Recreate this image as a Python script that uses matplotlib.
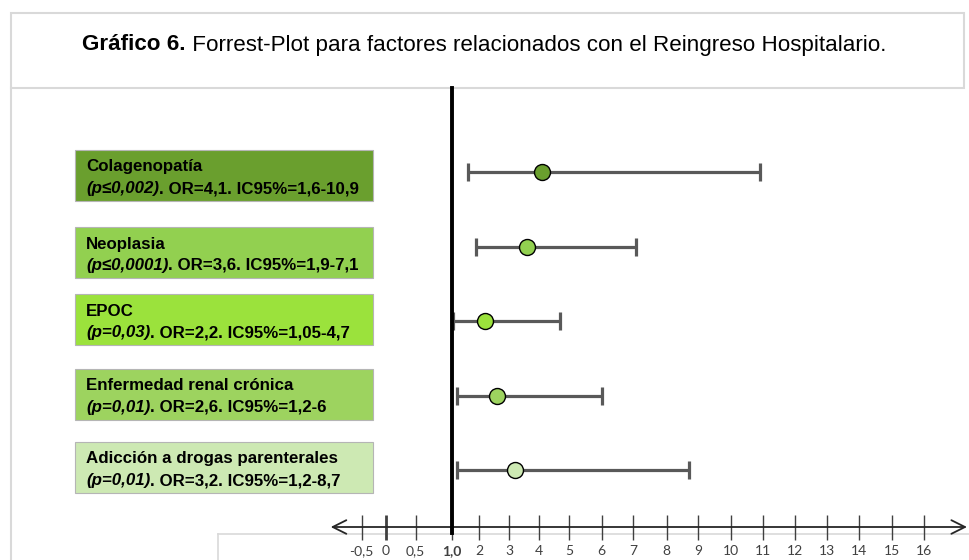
import numpy as np
import matplotlib
matplotlib.use('Agg')
import matplotlib.pyplot as plt
from matplotlib.patches import Rectangle

# factors, odds ratios and 95% CI
factors = ['Colagenopatía', 'Neoplasia', 'EPOC',
           'Enfermedad renal crónica', 'Adicción a drogas parenterales']
p_text = ['(p≤0,002)', '(p≤0,0001)', '(p=0,03)', '(p=0,01)', '(p=0,01)']
odds = [4.1, 3.6, 2.2, 2.6, 3.2]
ci_low = [1.6, 1.9, 1.05, 1.2, 1.2]
ci_high = [10.9, 7.1, 4.7, 6, 8.7]
colors = ['#6a9f2e', '#92d050', '#9be23c', '#9dd35f', '#cde9b3']

tick_vals = [-0.5, 0, 0.5, 1.0, 2, 3, 4, 5, 6, 7, 8, 9, 10, 11, 12, 13, 14, 15, 16]

title_bold = 'Gráfico 6.'
title_rest = ' Forrest-Plot para factores relacionados con el Reingreso Hospitalario.'

# the axis is drawn piecewise (uneven spacing between ticks)
tv = np.array(tick_vals, float)
tp = np.array([0, 24.3, 54, 90, 117.3, 147.3, 177.3, 207.3, 240, 271.3,
               305, 336.3, 369, 401, 433.3, 465.3, 497.3, 530, 562.3])
sl = (tp[1] - tp[0]) / (tv[1] - tv[0])
sr = (tp[-1] - tp[-2]) / (tv[-1] - tv[-2])


def fwd(v):
    v = np.asarray(v, float)
    out = np.interp(v, tv, tp)
    out = np.where(v < tv[0], tp[0] + (v - tv[0]) * sl, out)
    out = np.where(v > tv[-1], tp[-1] + (v - tv[-1]) * sr, out)
    return out


def inv(p):
    p = np.asarray(p, float)
    out = np.interp(p, tp, tv)
    out = np.where(p < tp[0], tv[0] + (p - tp[0]) / sl, out)
    out = np.where(p > tp[-1], tv[-1] + (p - tp[-1]) / sr, out)
    return out


def fmt(v):
    return f'{v:g}'.replace('.', ',')


W, H = 970, 560
fig = plt.figure(figsize=(W / 100, H / 100), dpi=100)

# background layer in pixel units for frames and label boxes
bg = fig.add_axes([0, 0, 1, 1])
bg.set_xlim(0, W)
bg.set_ylim(H, 0)
bg.axis('off')

frame = '#d9d9d9'
bg.add_patch(Rectangle((11, 12.5), 953, 75.5, fill=False, ec=frame, lw=1.5))
bg.plot([11, 11], [88, H], color=frame, lw=1.5)
bg.plot([218, W], [534, 534], color=frame, lw=1.2)
bg.plot([218, 218], [534, H], color=frame, lw=1.2)

t = bg.text(82, 50.5, title_bold, fontsize=16.1, fontweight='bold',
            family='Liberation Sans', va='baseline')
bg.annotate(title_rest, xy=(1, 0), xycoords=t, va='bottom', fontsize=16.1,
            family='Liberation Sans')

box_top = [150, 227, 294, 369, 442]
fam = ['Liberation Sans', 'DejaVu Sans']
fs = 12.2
for i, name in enumerate(factors):
    y0 = box_top[i]
    bg.add_patch(Rectangle((75, y0), 298, 51, fc=colors[i], ec='#b5b5b5', lw=0.8))
    bg.text(86, y0 + 21.5, name, fontsize=fs, fontweight='bold', family=fam,
            va='baseline')
    t1 = bg.text(86, y0 + 43, p_text[i], fontsize=fs, fontweight='bold',
                 style='italic', family=fam, va='baseline')
    rest = f'. OR={fmt(odds[i])}. IC95%={fmt(ci_low[i])}-{fmt(ci_high[i])}'
    bg.annotate(rest, xy=(1, 0), xycoords=t1, va='bottom', fontsize=fs,
                fontweight='bold', family=fam)

# forest plot
ax = fig.add_axes([330.7 / W, (H - 527) / H, (967 - 330.7) / W, (527 - 88) / H])
ax.patch.set_visible(False)
ax.set_xscale('function', functions=(fwd, inv))
ax.set_xlim(float(inv(-31)), float(inv(967 - 361.7)))
rows = np.arange(len(factors))
ax.set_ylim(4.765, -1.128)

for i in rows:
    ax.errorbar(odds[i], i, xerr=[[odds[i] - ci_low[i]], [ci_high[i] - odds[i]]],
                fmt='none', ecolor='#595959', elinewidth=2.3, capsize=6.5,
                capthick=2.3, zorder=2)
    ax.plot(odds[i], i, 'o', ms=11.5, mfc=colors[i], mec='black', mew=1, zorder=3)

ax.axvline(1.0, ymin=-6 / 439, ymax=1, color='black', lw=2.8, clip_on=False, zorder=4)

for s in ax.spines.values():
    s.set_visible(False)
ax.set_yticks([])
ax.set_xticks(tick_vals)
ax.set_xticklabels([fmt(v) if v != 1.0 else '1,0' for v in tick_vals],
                   family='Lato', fontsize=10, color='#404040')
ax.xaxis.set_minor_locator(matplotlib.ticker.NullLocator())
ax.tick_params(axis='x', direction='inout', length=18, width=1, color='#404040', pad=4)
ticks = ax.xaxis.get_major_ticks()
ticks[1].tick1line.set_color('black')
ticks[1].tick1line.set_markeredgewidth(2)
ax.get_xticklabels()[3].set_fontweight('bold')

ax.annotate('', xy=(1, 0), xytext=(0, 0), xycoords='axes fraction',
            arrowprops=dict(arrowstyle='<->,head_length=0.7,head_width=0.35',
                            color='#262626', lw=1.3, shrinkA=0, shrinkB=0,
                            mutation_scale=14))

fig.savefig('out.png', dpi=100)
